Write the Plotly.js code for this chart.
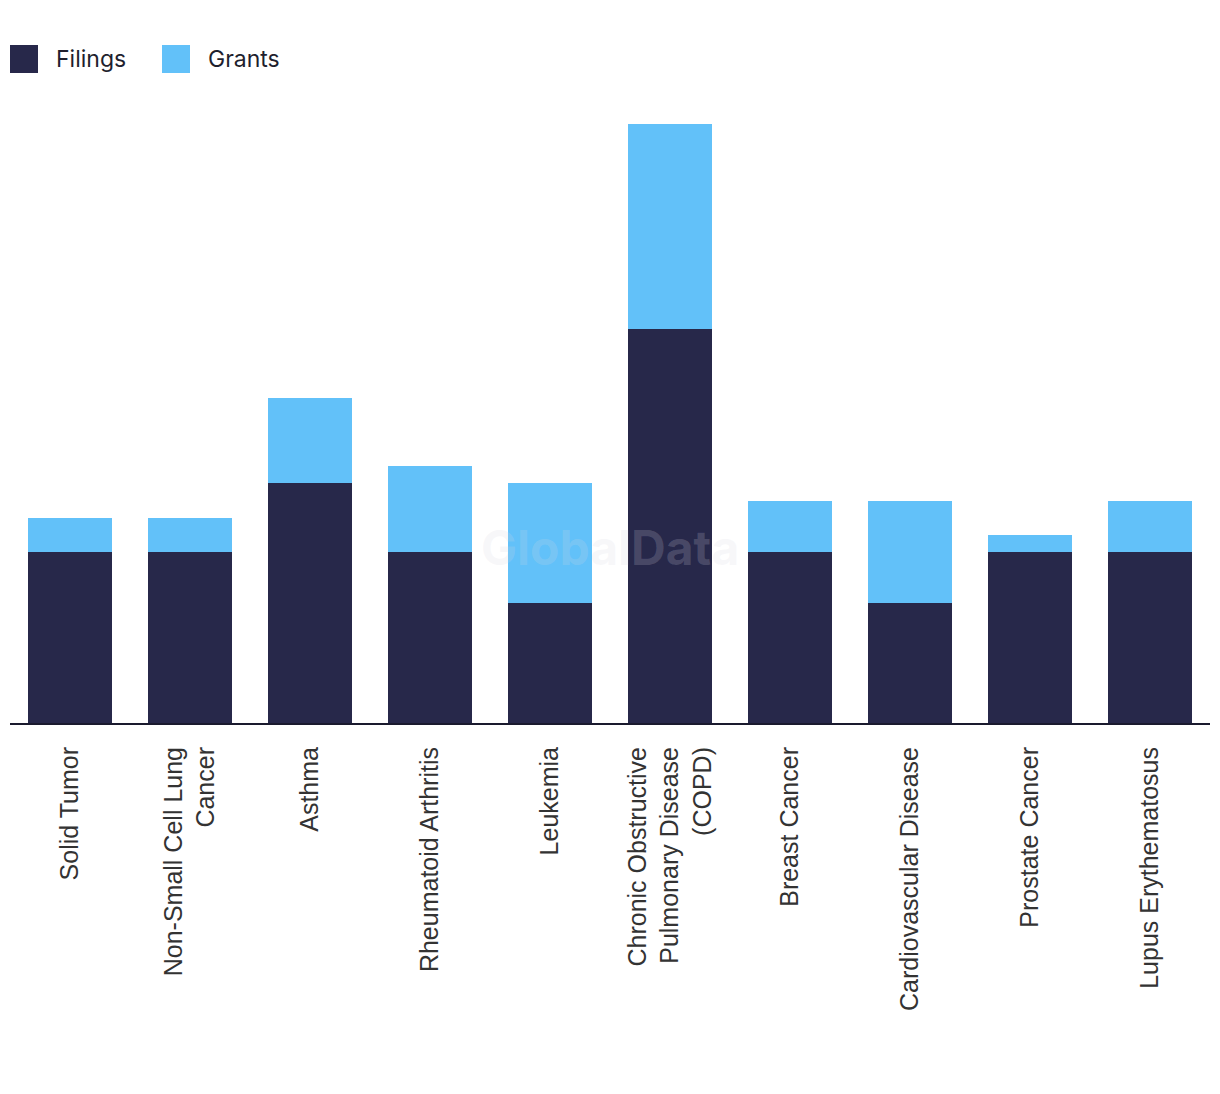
<!DOCTYPE html>
<html>
<head>
<meta charset="utf-8">
<script src="https://cdn.plot.ly/plotly-3.0.1.min.js"></script>
<style>html,body{margin:0;padding:0;background:#fff;}#chart{width:1220px;height:1094px;}</style>
</head>
<body>
<div id="chart"></div>
<script>
const categories = ["Solid Tumor", "Non-Small Cell Lung<br>Cancer", "Asthma", "Rheumatoid Arthritis", "Leukemia", "Chronic Obstructive<br>Pulmonary Disease<br>(COPD)", "Breast Cancer", "Cardiovascular Disease", "Prostate Cancer", "Lupus Erythematosus"];
const filings = [10, 10, 14, 10, 7, 23, 10, 7, 10, 10];
const grants = [2, 2, 5, 5, 7, 12, 3, 6, 1, 3];
const seriesNames = ['Filings', 'Grants'];
const seriesColors = ['#27284a', '#62c1f9'];

const traces = [
  {type: 'bar', name: seriesNames[0], x: categories, y: filings, marker: {color: seriesColors[0]}},
  {type: 'bar', name: seriesNames[1], x: categories, y: grants, marker: {color: seriesColors[1]}}
];

// custom legend with large square swatches (pixel positions converted to paper coords)
const legendX = [10, 162];
const plotW = 1200, plotH = 599, plotTop = 124;

const layout = {
  width: 1220, height: 1094,
  barmode: 'stack',
  bargap: 0.3,
  paper_bgcolor: '#ffffff', plot_bgcolor: '#ffffff',
  margin: {l: 10, r: 10, t: 124, b: 371},
  font: {family: '"Liberation Sans", Arial, sans-serif', color: '#333333'},
  showlegend: false,
  xaxis: {tickangle: -90, tickfont: {size: 25, color: '#333333', family: '"Liberation Sans", Arial, sans-serif'},
    showline: true, linecolor: '#1a1a2e', linewidth: 2, ticklabelstandoff: 12,
    ticks: '', ticklen: 0, showgrid: false, fixedrange: true},
  yaxis: {range: [0, 35], visible: false, showgrid: false, zeroline: false, fixedrange: true},
  shapes: seriesNames.map((n, i) => ({type: 'rect', xref: 'paper', yref: 'paper',
    x0: (legendX[i] - 10) / plotW, x1: (legendX[i] + 28 - 10) / plotW,
    y0: 1 + (plotTop - 73) / plotH, y1: 1 + (plotTop - 45) / plotH,
    fillcolor: seriesColors[i], line: {width: 0}})),
  annotations: seriesNames.map((n, i) => ({text: n, xref: 'paper', yref: 'paper',
    x: (legendX[i] + 44 - 10) / plotW, y: 1 + (plotTop - 59) / plotH, xanchor: 'left', yanchor: 'middle', showarrow: false,
    font: {size: 23, color: '#1f1f2e', family: 'Inter, Roboto, sans-serif'}})).concat([
    {text: '<b>GlobalData</b>', x: 0.5, y: 0.29, xref: 'paper', yref: 'paper', showarrow: false, yshift: -30,
    font: {size: 48, color: 'rgba(215,215,225,0.2)', family: 'Inter, Roboto, sans-serif'}}])
};

Plotly.newPlot('chart', traces, layout, {displayModeBar: false, staticPlot: true});
</script>
</body>
</html>
